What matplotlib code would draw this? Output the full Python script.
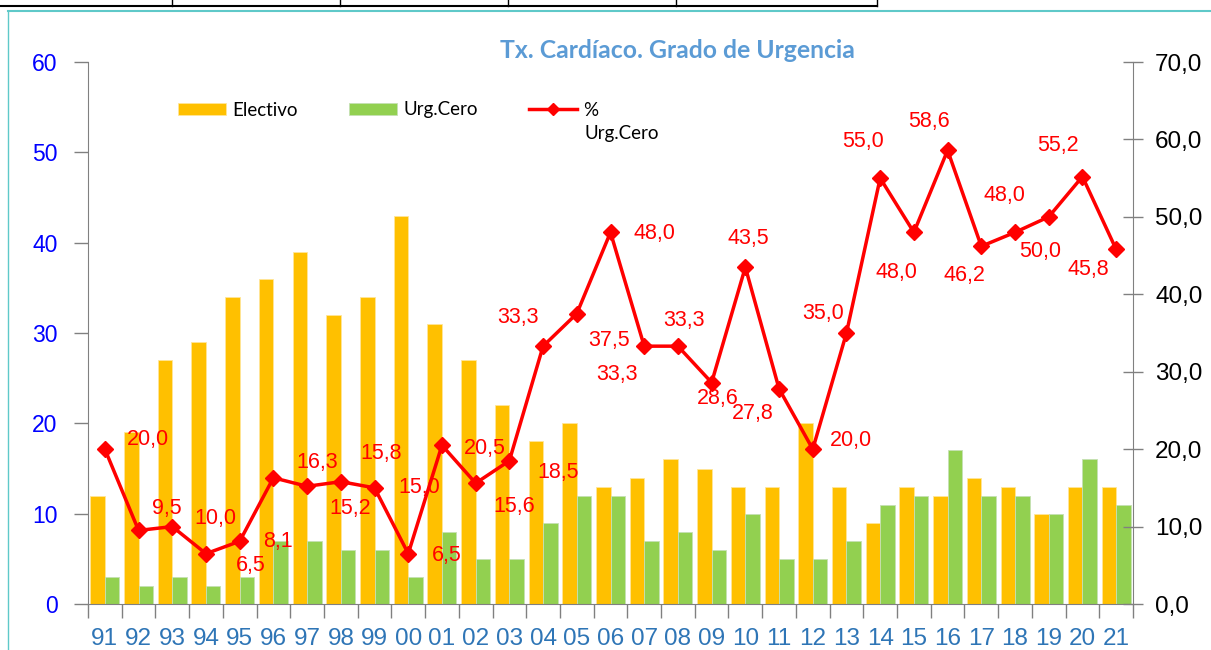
import matplotlib
matplotlib.use("Agg")
import matplotlib.pyplot as plt
from matplotlib.lines import Line2D
import numpy as np

# Data
years = ["91", "92", "93", "94", "95", "96", "97", "98", "99", "00", "01", "02", "03", "04", "05", "06",
         "07", "08", "09", "10", "11", "12", "13", "14", "15", "16", "17", "18", "19", "20", "21"]
electivo = [12, 19, 27, 29, 34, 36, 39, 32, 34, 43, 31, 27, 22, 18, 20, 13,
            14, 16, 15, 13, 13, 20, 13, 9, 13, 12, 14, 13, 10, 13, 13]
urg_cero = [3, 2, 3, 2, 3, 7, 7, 6, 6, 3, 8, 5, 5, 9, 12, 12,
            7, 8, 6, 10, 5, 5, 7, 11, 12, 17, 12, 12, 10, 16, 11]
pct_urg = [20.0, 9.5, 10.0, 6.5, 8.1, 16.3, 15.2, 15.8, 15.0, 6.5, 20.5, 15.6, 18.5, 33.3, 37.5, 48.0,
           33.3, 33.3, 28.6, 43.5, 27.8, 20.0, 35.0, 55.0, 48.0, 58.6, 46.2, 48.0, 50.0, 55.2, 45.8]

# label offsets in pixels (dx, dy up) as placed in the original
label_off = [(43, 10), (28, 22), (43, 8), (45, -12), (38, 0), (44, 15), (43, -22), (40, 28), (45, 0), (39, -2),
             (43, -3), (39, -23), (49, -12), (-25, 29), (32, -27), (44, -1), (-27, -28), (6, 26), (6, -16),
             (3, 29), (-26, -25), (38, 9), (-23, 20), (-17, 37), (-17, -40), (-19, 29), (-17, -29),
             (-11, 37), (-9, -35), (-24, 31), (-28, -20)]

x = np.arange(len(years))
orange = "#FFC000"
green = "#92D050"
red = "#FF0000"

fig = plt.figure(figsize=(12.11, 6.5), dpi=100)
ax = fig.add_axes([88 / 1211, 1 - 604 / 650, (1133 - 88) / 1211, (604 - 62) / 650])

ax.bar(x - 0.215, electivo, width=0.43, color=orange, edgecolor="#FFE699", linewidth=0.6, label="Electivo")
ax.bar(x + 0.215, urg_cero, width=0.43, color=green, edgecolor="#C5E0B4", linewidth=0.6, label="Urg.Cero")
ax.set_xlim(-0.5, len(years) - 0.5)
ax.set_ylim(0, 60)
ax.set_yticks(range(0, 61, 10))
ax.tick_params(axis="y", colors="#808080", labelcolor="#0000FF", labelsize=16.5, length=10, width=1, pad=12)
for t in ax.get_yticklabels():
    t.set_fontfamily("Liberation Sans")

ax.set_xticks(x)
ax.set_xticklabels(years, fontsize=17.5, color="#2E75B6", family="Liberation Sans")
ax.tick_params(axis="x", length=0, pad=17)
ax.set_xticks(np.arange(-0.5, len(years)), minor=True)
ax.tick_params(axis="x", which="minor", length=10, width=1, color="#808080")

for s in ["top", "right"]:
    ax.spines[s].set_visible(False)
ax.spines["left"].set_color("#808080")
ax.spines["bottom"].set_color("#808080")

ax2 = ax.twinx()
ax2.plot(x, pct_urg, color=red, linewidth=2.5, marker="D", markersize=8.5, label="%")
ax2.set_ylim(0, 70)
ax2.set_yticks(range(0, 71, 10))
ax2.set_yticklabels([f"{v},0" for v in range(0, 71, 10)], fontsize=17.5, family="Liberation Sans")
ax2.tick_params(axis="y", direction="inout", length=14, width=1, colors="#808080", labelcolor="black", pad=9)
for s in ["top", "left", "bottom"]:
    ax2.spines[s].set_visible(False)
ax2.spines["right"].set_color("#808080")

for xi, v, (dx, dy) in zip(x, pct_urg, label_off):
    ax2.annotate(f"{v:.1f}".replace(".", ","), (xi, v), xytext=(dx, dy), textcoords="offset pixels",
                 ha="center", va="center", color=red, fontsize=15.5, family="Liberation Sans")

ax.text(0.564, 1 + 12 / 542, "Tx. Cardíaco. Grado de Urgencia", transform=ax.transAxes, ha="center",
        va="center", color="#5B9BD5", fontsize=17.8, fontweight="bold", family="Lato")

h1, l1 = ax.get_legend_handles_labels()
h2, l2 = ax2.get_legend_handles_labels()
fig.legend(h1 + h2, l1 + l2, loc="center left", bbox_to_anchor=(178 / 1211, 1 - 110 / 650), ncol=3,
           frameon=False, prop={"family": "Lato", "size": 13.5}, handlelength=2.56, handleheight=0.65,
           columnspacing=2.75, handletextpad=0.32, borderpad=0, borderaxespad=0, markerscale=0.75)
fig.text(585 / 1211, 1 - 133 / 650, "Urg.Cero", ha="left", va="center", family="Lato", fontsize=13.5)

# frame pieces around the chart in the source document
fig.add_artist(Line2D([0, 877 / 1211], [1 - 6 / 650] * 2, color="black", linewidth=1.5))
for xp in [172, 340, 508, 676, 877]:
    fig.add_artist(Line2D([xp / 1211] * 2, [1 - 6 / 650, 1], color="black", linewidth=1))
fig.add_artist(Line2D([8 / 1211, 1], [1 - 11 / 650] * 2, color="#5FC9C9", linewidth=1.5))
fig.add_artist(Line2D([8 / 1211] * 2, [0, 1 - 11 / 650], color="#5FC9C9", linewidth=1))

fig.savefig("out.png", dpi=100)
